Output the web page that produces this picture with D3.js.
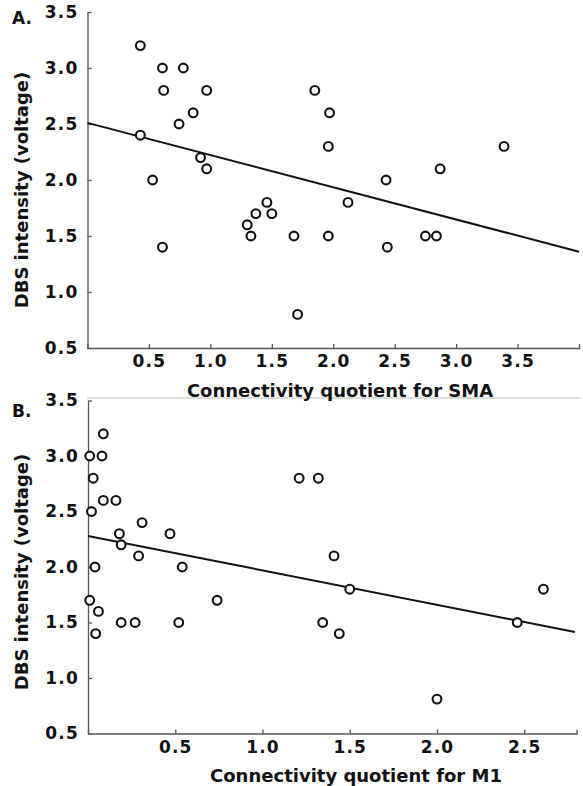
<!DOCTYPE html>
<html>
<head>
<meta charset="utf-8">
<script src="https://cdn.jsdelivr.net/npm/d3@7"></script>
<style>
  html, body { margin: 0; padding: 0; background: #fff; }
  svg { display: block; font-family: "DejaVu Sans", Verdana, sans-serif; font-weight: bold; }
  .tick text { font-family: "DejaVu Sans", Verdana, sans-serif; font-size: 17px; letter-spacing: 1.2px; fill: #111; }
  .tick line, .domain { stroke: #555; stroke-width: 1.3; }
</style>
</head>
<body>
<svg width="583" height="786"></svg>
<script>
// Panel A: connectivity quotient for SMA vs DBS intensity
const smaX = [0.43, 0.61, 0.78, 0.62, 0.97, 0.86, 0.745, 0.43, 0.92, 0.97, 0.53,
  1.85, 1.97, 1.96, 3.39, 2.87, 2.43, 2.12,
  0.61, 1.30, 1.33, 1.37, 1.46, 1.50, 1.68, 1.71,
  1.96, 2.44, 2.75, 2.84];
const smaY = [3.2, 3.0, 3.0, 2.8, 2.8, 2.6, 2.5, 2.4, 2.2, 2.1, 2.0,
  2.8, 2.6, 2.3, 2.3, 2.1, 2.0, 1.8,
  1.4, 1.6, 1.5, 1.7, 1.8, 1.7, 1.5, 0.8,
  1.5, 1.4, 1.5, 1.5];
const smaFit = [[0, 2.51], [4, 1.36]];

// Panel B: connectivity quotient for M1 vs DBS intensity
const m1X = [0.088, 0.01, 0.08, 0.03, 0.088, 0.16, 0.02, 0.31, 0.18, 0.47, 0.19, 0.29, 0.04, 0.54,
  0.01, 0.06, 0.044, 0.19, 0.27, 0.52, 0.74,
  1.21, 1.32, 1.41, 1.50, 1.345, 1.44, 2.00, 2.46, 2.61];
const m1Y = [3.2, 3.0, 3.0, 2.8, 2.6, 2.6, 2.5, 2.4, 2.3, 2.3, 2.2, 2.1, 2.0, 2.0,
  1.7, 1.6, 1.4, 1.5, 1.5, 1.5, 1.7,
  2.8, 2.8, 2.1, 1.8, 1.5, 1.4, 0.81, 1.5, 1.8];
const m1Fit = [[0, 2.28], [2.79, 1.415]];

const yTicks = [0.5, 1.0, 1.5, 2.0, 2.5, 3.0, 3.5];
const smaTicks = [0.5, 1.0, 1.5, 2.0, 2.5, 3.0, 3.5];
const m1Ticks = [0.5, 1.0, 1.5, 2.0, 2.5];

const svg = d3.select("svg");
const fmt = d3.format(".1f");

const panels = [
  { tag: "A.", xs: smaX, ys: smaY, fit: smaFit, xTicks: smaTicks,
    x: d3.scaleLinear([0, 4], [87.5, 579]),
    y: d3.scaleLinear([0.5, 3.5], [348, 12]),
    xLabel: "Connectivity quotient for SMA", xLabelX: 340, xLabelY: 397,
    yLabelY: 190, tagY: 24 },
  { tag: "B.", xs: m1X, ys: m1Y, fit: m1Fit, xTicks: m1Ticks,
    x: d3.scaleLinear([0, 2.8], [88, 576.6]),
    y: d3.scaleLinear([0.5, 3.5], [733.5, 400.5]),
    xLabel: "Connectivity quotient for M1", xLabelX: 356, xLabelY: 782,
    yLabelY: 572, tagY: 417 }
];

// light frame line on top of panel B
svg.append("line")
  .attr("x1", 87).attr("x2", 580)
  .attr("y1", 398).attr("y2", 398)
  .attr("stroke", "#bbb").attr("stroke-width", 1);

panels.forEach((p) => {
  const g = svg.append("g");
  const [y0] = p.y.range();

  // x axis
  g.append("g")
    .attr("transform", "translate(0," + y0 + ")")
    .call(d3.axisBottom(p.x).tickValues(p.xTicks).tickFormat(fmt)
      .tickSizeInner(-4).tickSizeOuter(-4).tickPadding(7));

  // y axis
  g.append("g")
    .attr("transform", "translate(" + p.x.range()[0] + ",0)")
    .call(d3.axisLeft(p.y).tickValues(yTicks).tickFormat(fmt)
      .tickSizeInner(-4).tickSizeOuter(0).tickPadding(9));

  // regression line
  g.append("path")
    .datum(p.fit)
    .attr("fill", "none")
    .attr("stroke", "#111")
    .attr("stroke-width", 2)
    .attr("d", d3.line().x((d) => p.x(d[0])).y((d) => p.y(d[1])));

  // points
  g.selectAll("circle")
    .data(d3.range(p.xs.length))
    .join("circle")
    .attr("cx", (i) => p.x(p.xs[i]))
    .attr("cy", (i) => p.y(p.ys[i]))
    .attr("r", 4.4)
    .attr("fill", "#fff")
    .attr("stroke", "#111")
    .attr("stroke-width", 2.1);

  // labels
  g.append("text")
    .attr("x", 12).attr("y", p.tagY)
    .attr("font-size", 17).attr("fill", "#111")
    .text(p.tag);

  g.append("text")
    .attr("x", p.xLabelX).attr("y", p.xLabelY)
    .attr("text-anchor", "middle")
    .attr("font-size", 18).attr("fill", "#111")
    .text(p.xLabel);

  g.append("text")
    .attr("transform", "translate(28," + p.yLabelY + ") rotate(-90)")
    .attr("text-anchor", "middle")
    .attr("font-size", 18).attr("fill", "#111")
    .text("DBS intensity (voltage)");
});
</script>
</body>
</html>
